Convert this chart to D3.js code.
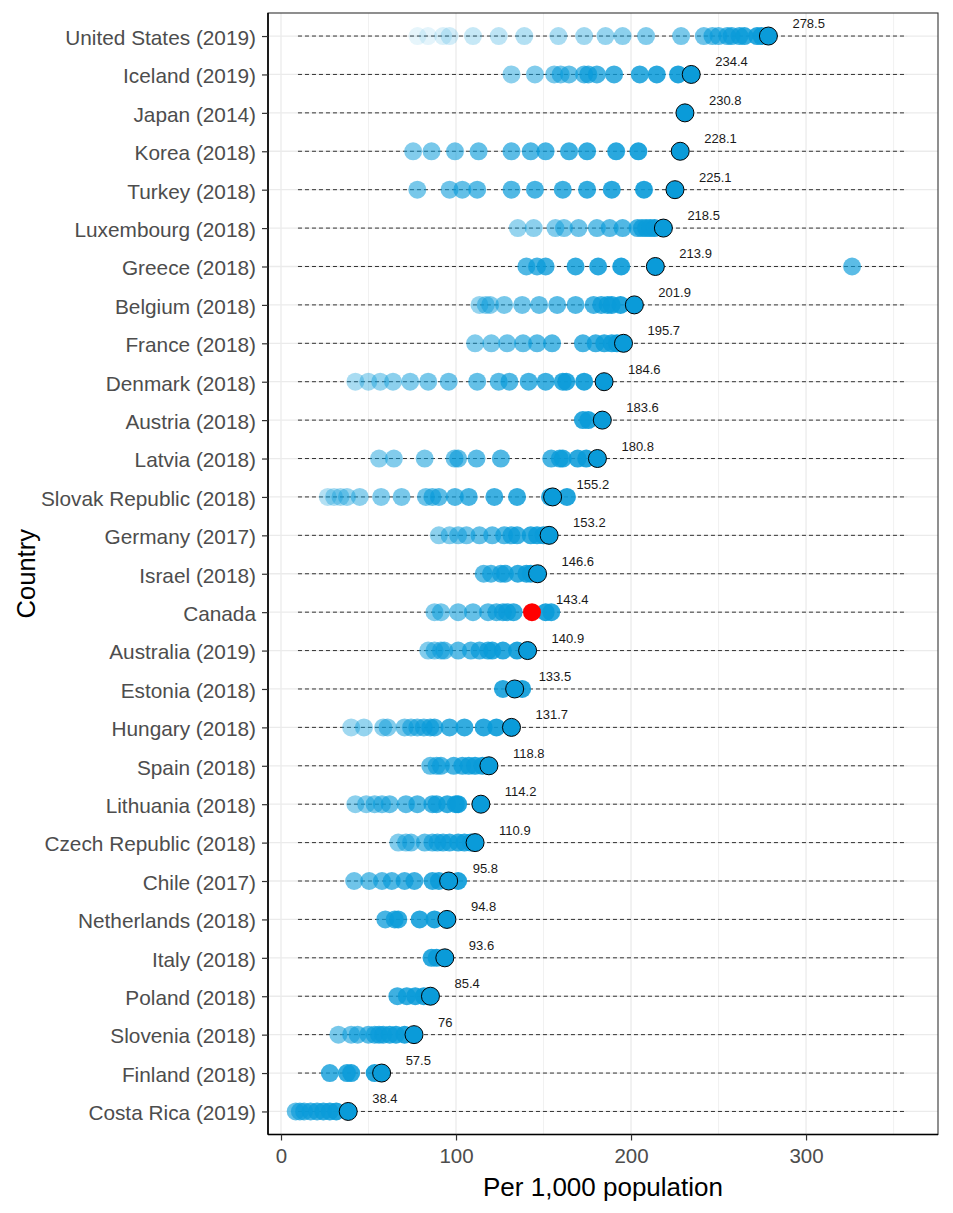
<!DOCTYPE html>
<html>
<head>
<meta charset="utf-8">
<script src="https://cdn.jsdelivr.net/npm/d3@7"></script>
<style>
  html, body { margin: 0; padding: 0; background: #fff; }
  svg { display: block; font-family: "Liberation Sans", Arial, sans-serif; }
</style>
</head>
<body>
<svg id="chart" width="953" height="1213"></svg>
<script>
// ---- data (top to bottom) ----
const countries = ["United States (2019)", "Iceland (2019)", "Japan (2014)", "Korea (2018)", "Turkey (2018)",
  "Luxembourg (2018)", "Greece (2018)", "Belgium (2018)", "France (2018)", "Denmark (2018)", "Austria (2018)",
  "Latvia (2018)", "Slovak Republic (2018)", "Germany (2017)", "Israel (2018)", "Canada", "Australia (2019)",
  "Estonia (2018)", "Hungary (2018)", "Spain (2018)", "Lithuania (2018)", "Czech Republic (2018)", "Chile (2017)",
  "Netherlands (2018)", "Italy (2018)", "Poland (2018)", "Slovenia (2018)", "Finland (2018)", "Costa Rica (2019)"];

const latestValues = [278.5, 234.4, 230.8, 228.1, 225.1, 218.5, 213.9, 201.9, 195.7, 184.6, 183.6, 180.8, 155.2,
  153.2, 146.6, 143.4, 140.9, 133.5, 131.7, 118.8, 114.2, 110.9, 95.8, 94.8, 93.6, 85.4, 76, 57.5, 38.4];

// earlier years, oldest first
const history = [
  [78, 84, 92.6, 96.3, 109.7, 124.4, 139, 158.5, 173.2, 185.4, 195.2, 208.6, 228.6, 241.6, 246.5, 250, 255, 257.5, 262, 264.8, 272, 274.5],
  [131.7, 145.1, 156.1, 159.8, 164.6, 173.2, 175.6, 180.5, 190.3, 205, 214.7, 226.9],
  [],
  [75.5, 86, 99.4, 112.9, 131.7, 142.7, 151.2, 164.6, 174.9, 191.5, 204.2],
  [77.9, 96.3, 103.6, 112.1, 131.7, 145.1, 161, 174.9, 189, 207.4],
  [135.3, 144.4, 156.8, 161.7, 170, 180.5, 187.8, 195.2, 203.7, 206.2, 208.6, 211, 213.5],
  [326.3, 140.2, 146.3, 151.2, 168.3, 181.2, 194.4],
  [113.4, 117, 119.5, 127.5, 137.8, 147.5, 157.8, 168.3, 178.6, 183, 186.6, 189, 194],
  [110.9, 120.2, 129.2, 138.3, 146.3, 154.9, 172.5, 179.8, 184.7, 189, 192],
  [42.5, 49.9, 56.7, 64, 73.8, 84.1, 95.8, 112.1, 124.4, 130.5, 141.5, 151.2, 161, 163, 173.2],
  [172.5, 175.6],
  [56, 64.5, 82.1, 99.2, 101.2, 111.7, 125.6, 154.4, 159.3, 161, 169.5, 174.4],
  [26.7, 30.3, 34, 37.7, 45, 57.2, 68.9, 82.8, 86.5, 90.2, 99.4, 107.3, 121.9, 134.9, 153.7, 163.4],
  [90.2, 96.3, 101.2, 106, 113.4, 120.7, 127.5, 131.7, 134.9, 142.7, 146.3, 150],
  [115.8, 120, 125.6, 128, 135.3, 140.2, 142.7],
  [87.7, 91.4, 101.2, 109.7, 118.3, 123.1, 126.8, 129.2, 132.9, 154.4, 151.2],
  [84.1, 87.7, 91.4, 93.3, 101.2, 108.5, 113.4, 118.3, 120.7, 126.8, 134.9],
  [126.8, 137.8],
  [40.1, 47.4, 58.4, 60.9, 70.6, 74.3, 77.9, 81.6, 85.3, 87.7, 96.3, 104.8, 115.8, 123.1],
  [85.3, 88.9, 91.4, 98.7, 103.6, 107.3, 110.9, 115.1],
  [42.5, 48.7, 53.5, 57.7, 62.1, 71.4, 77.9, 86.5, 88.9, 95, 99.9, 101.2],
  [67, 71.4, 74.3, 82.1, 86.5, 89.4, 92.6, 96.3, 101.2, 104.8, 108.5],
  [41.8, 50.4, 57.7, 63.3, 70.6, 76.2, 86.5, 90.2, 101.2],
  [59.6, 65, 67, 79.2, 87.7],
  [86, 88.9],
  [66.5, 71.9, 76.7, 81.6],
  [32.8, 40.1, 43.8, 49.9, 53.5, 56, 58.4, 62.1, 65.7, 70.6],
  [27.9, 37.7, 40.1, 53.5],
  [8.4, 10.8, 13.2, 16.9, 20.6, 24.2, 27.9, 31.6]
];

const highlightCountry = "Canada";
const segmentRange = [9.7, 357.7];
const xTicks = [0, 100, 200, 300];
const xMinorTicks = [50, 150, 250, 350];

// ---- layout ----
const panel = { left: 268, right: 938, top: 13, bottom: 1134.5 };
const blue = "#0a9bd9";
const R = 9;

const svg = d3.select("#chart");

const x = d3.scaleLinear().domain([-7.43, 375.4]).range([panel.left, panel.right]);
const y = d3.scalePoint().domain(countries).range([panel.top, panel.bottom]).padding(0.6);

// background
svg.append("rect").attr("x", panel.left).attr("y", panel.top)
  .attr("width", panel.right - panel.left).attr("height", panel.bottom - panel.top)
  .attr("fill", "#fff");

// grid
const grid = svg.append("g");
grid.selectAll("line.minor").data(xMinorTicks).join("line")
  .attr("x1", d => x(d)).attr("x2", d => x(d))
  .attr("y1", panel.top).attr("y2", panel.bottom)
  .attr("stroke", "#ebebeb").attr("stroke-width", 0.7);
grid.selectAll("line.majx").data(xTicks).join("line")
  .attr("x1", d => x(d)).attr("x2", d => x(d))
  .attr("y1", panel.top).attr("y2", panel.bottom)
  .attr("stroke", "#ebebeb").attr("stroke-width", 1.3);
grid.selectAll("line.majy").data(countries).join("line")
  .attr("x1", panel.left).attr("x2", panel.right)
  .attr("y1", d => y(d)).attr("y2", d => y(d))
  .attr("stroke", "#ebebeb").attr("stroke-width", 1.3);

// dashed segments
svg.append("g").selectAll("line").data(countries).join("line")
  .attr("x1", x(segmentRange[0])).attr("x2", x(segmentRange[1]))
  .attr("y1", d => y(d)).attr("y2", d => y(d))
  .attr("stroke", "#333").attr("stroke-width", 1)
  .attr("stroke-dasharray", "4,3");

// historical points
const pts = [];
countries.forEach((c, ci) => {
  const h = history[ci];
  const n = h.length;
  h.forEach((v, i) => {
    const k = n - i; // years before latest
    pts.push({ c, v, a: Math.max(0.1, 0.95 - 0.04 * k) });
  });
});
svg.append("g").selectAll("circle").data(pts).join("circle")
  .attr("cx", d => x(d.v)).attr("cy", d => y(d.c)).attr("r", R)
  .attr("fill", blue).attr("fill-opacity", d => d.a);

// latest points
const latest = countries.map((c, i) => ({ c, v: latestValues[i] }));
svg.append("g").selectAll("circle").data(latest).join("circle")
  .attr("cx", d => x(d.v)).attr("cy", d => y(d.c)).attr("r", R)
  .attr("fill", d => d.c === highlightCountry ? "#ff0000" : blue)
  .attr("stroke", d => d.c === highlightCountry ? "none" : "#000")
  .attr("stroke-width", 1);

// value labels
svg.append("g").selectAll("text").data(latest).join("text")
  .attr("x", d => x(d.v) + 24).attr("y", d => y(d.c) - 8)
  .attr("font-size", 13).attr("fill", "#1a1a1a")
  .text(d => d3.format("~r")(d.v));

// panel border
svg.append("rect").attr("x", panel.left).attr("y", panel.top)
  .attr("width", panel.right - panel.left).attr("height", panel.bottom - panel.top)
  .attr("fill", "none").attr("stroke", "#333").attr("stroke-width", 1.1);
// axis lines
svg.append("line").attr("x1", panel.left).attr("x2", panel.left).attr("y1", panel.top).attr("y2", panel.bottom)
  .attr("stroke", "#000").attr("stroke-width", 1.6);
svg.append("line").attr("x1", panel.left).attr("x2", panel.right).attr("y1", panel.bottom).attr("y2", panel.bottom)
  .attr("stroke", "#000").attr("stroke-width", 1.6);

// x axis
const xAxis = d3.axisBottom(x).tickValues(xTicks).tickSize(6).tickPadding(8).tickFormat(d3.format("d"));
const gx = svg.append("g").attr("transform", `translate(0,${panel.bottom})`).call(xAxis);
gx.select(".domain").remove();
gx.selectAll(".tick line").attr("stroke", "#333").attr("stroke-width", 1.2);
gx.selectAll(".tick text").attr("font-size", 20.5).attr("fill", "#4d4d4d")
  .attr("font-family", "Liberation Sans, Arial, sans-serif");

// y axis
const yAxis = d3.axisLeft(y).tickSize(6).tickPadding(6);
const gy = svg.append("g").attr("transform", `translate(${panel.left},0)`).call(yAxis);
gy.select(".domain").remove();
gy.selectAll(".tick line").attr("stroke", "#333").attr("stroke-width", 1.2);
gy.selectAll(".tick text").attr("font-size", 20.8).attr("fill", "#4d4d4d").attr("dy", "0.4em")
  .attr("font-family", "Liberation Sans, Arial, sans-serif");

// axis titles
svg.append("text").attr("x", (panel.left + panel.right) / 2).attr("y", 1196)
  .attr("text-anchor", "middle").attr("font-size", 26).attr("fill", "#000")
  .text("Per 1,000 population");
svg.append("text").attr("transform", `translate(35,${(panel.top + panel.bottom) / 2}) rotate(-90)`)
  .attr("text-anchor", "middle").attr("font-size", 25.5).attr("fill", "#000")
  .text("Country");
</script>
</body>
</html>
